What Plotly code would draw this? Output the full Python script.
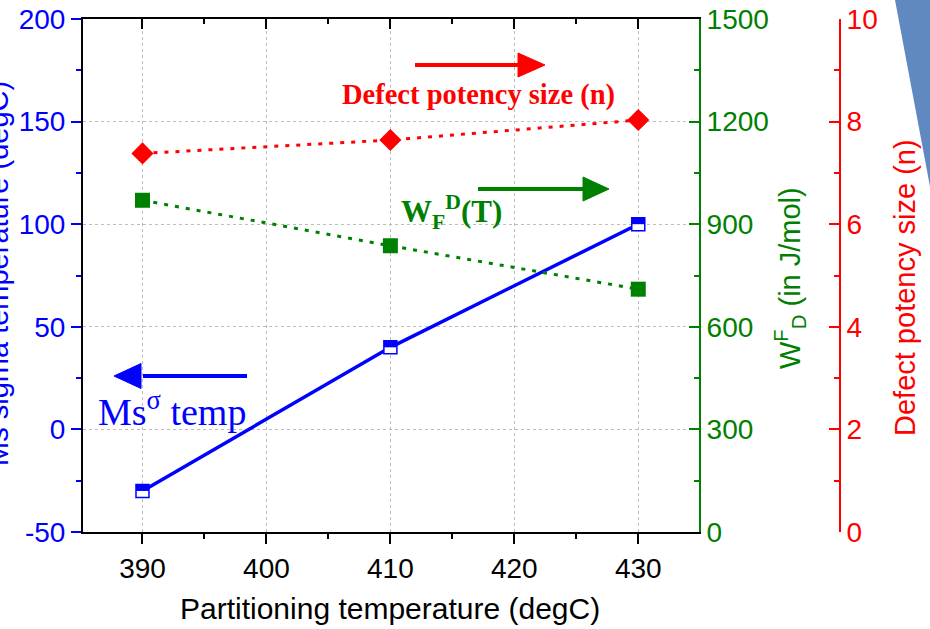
import plotly.graph_objects as go

# Measured series
temps = [390, 410, 430]                 # partitioning temperature (degC)
ms_sigma = [-30, 40, 100]               # Ms sigma temperature (degC)
wfd = [970, 837, 710]                   # W_F^D (J/mol)
defect_n = [7.38, 7.64, 8.03]           # defect potency size (n)

# Axis ticks
x_ticks = [390, 400, 410, 420, 430]
x_minor = [385, 395, 405, 415, 425, 435]
y_ticks = [-50, 0, 50, 100, 150, 200]
y_labels = ["-50", "0", "50", "100", "150", "200"]
y_minor = [-25, 25, 75, 125, 175]
y2_ticks = [0, 300, 600, 900, 1200, 1500]
y2_minor = [150, 450, 750, 1050, 1350]
y3_ticks = [0, 2, 4, 6, 8, 10]
y3_minor = [1, 3, 5, 7, 9]

BLUE = "#0000ff"
GREEN = "#008000"
RED = "#ff0000"
GRID = "#bdbdbd"
SANS = "Liberation Sans"
SERIF = "Liberation Serif"

W, H = 930, 629
L, R, T, B = 83, 90, 19, 97
PW = W - L - R
PH = H - T - B
X_DOM_END = (699 - L) / PW


def px(x):
    return (x - L) / PW


def py(y):
    return (H - B - y) / PH


fig = go.Figure()

fig.add_trace(go.Scatter(
    x=temps, y=wfd, yaxis="y2", mode="lines+markers",
    line=dict(color=GREEN, width=3, dash="4px,7px"),
    marker=dict(symbol="square", size=15, color=GREEN),
    cliponaxis=False, hoverinfo="skip", showlegend=False))

fig.add_trace(go.Scatter(
    x=temps, y=defect_n, yaxis="y3", mode="lines+markers",
    line=dict(color=RED, width=3, dash="4px,7px"),
    marker=dict(symbol="diamond", size=17, color=RED),
    cliponaxis=False, hoverinfo="skip", showlegend=False))

fig.add_trace(go.Scatter(
    x=temps, y=ms_sigma, yaxis="y", mode="lines+markers",
    line=dict(color=BLUE, width=3.5),
    marker=dict(symbol="square", size=13, color="white",
                line=dict(color=BLUE, width=1.5)),
    cliponaxis=False, hoverinfo="skip", showlegend=False))

# carrier trace for the top (mirror) axis
fig.add_trace(go.Scatter(x=temps, y=ms_sigma, xaxis="x2", yaxis="y",
                         mode="none", hoverinfo="skip", showlegend=False))

shapes = []
# upper half of each Ms marker filled
for t, v in zip(temps, ms_sigma):
    shapes.append(dict(type="rect", xref="x", yref="y",
                       xsizemode="pixel", ysizemode="pixel",
                       xanchor=t, yanchor=v, x0=-6.5, x1=6.5, y0=0, y1=6.5,
                       fillcolor=BLUE, line=dict(width=0), layer="above"))


def arrow(x_tail, x_base, x_tip, y, half, color):
    out = [dict(type="line", xref="paper", yref="paper",
                x0=px(x_tail), x1=px(x_base + 2), y0=py(y), y1=py(y),
                line=dict(color=color, width=4)),
           dict(type="path", xref="paper", yref="paper",
                path=f"M{px(x_base)},{py(y - half)} L{px(x_tip)},{py(y)} "
                     f"L{px(x_base)},{py(y + half)} Z",
                fillcolor=color, line=dict(color=color, width=1))]
    return out


shapes += arrow(415, 518, 545, 65, 12, RED)
shapes += arrow(478, 583, 609, 189, 12, GREEN)
shapes += arrow(247, 141, 114, 376, 12.5, BLUE)

# blue corner decoration
shapes.append(dict(type="path", xref="paper", yref="paper",
                   path=f"M{px(895)},{py(0)} L{px(931)},{py(0)} "
                        f"L{px(931)},{py(192)} Z",
                   fillcolor="#6089c2", line=dict(width=0), layer="below"))

annotations = [
    dict(text="Ms sigma temperature (degC)", textangle=-90,
         x=px(-2), y=py(274), xanchor="center", yanchor="middle",
         font=dict(family=SANS, size=29, color=BLUE)),
    dict(text="Partitioning temperature (degC)",
         x=px(390), y=py(608), xanchor="center", yanchor="middle",
         font=dict(family=SANS, size=30, color="black")),
    dict(text="W<sup>F</sup><sub>D</sub> (in J/mol)", textangle=-90,
         x=px(790), y=py(278), xanchor="center", yanchor="middle",
         font=dict(family=SANS, size=29, color=GREEN)),
    dict(text="Defect potency size (n)", textangle=-90,
         x=px(905), y=py(288), xanchor="center", yanchor="middle",
         font=dict(family=SANS, size=29, color=RED)),
    dict(text="<b>Defect potency size (n)</b>",
         x=px(478), y=py(95), xanchor="center", yanchor="middle",
         font=dict(family=SERIF, size=28.5, color=RED)),
    dict(text="<b>W<sub>F</sub><sup>D</sup>(T)</b>",
         x=px(451), y=py(212), xanchor="center", yanchor="middle",
         font=dict(family=SERIF, size=31, color=GREEN)),
    dict(text="Ms<sup>σ</sup> temp",
         x=px(172), y=py(409), xanchor="center", yanchor="middle",
         font=dict(family=SERIF, size=38, color=BLUE)),
]
for a in annotations:
    a.update(xref="paper", yref="paper", showarrow=False)

tick_font = dict(family=SANS, size=28)

fig.update_layout(
    width=W, height=H,
    margin=dict(l=L, r=R, t=T, b=B, autoexpand=False),
    paper_bgcolor="white", plot_bgcolor="white",
    showlegend=False,
    shapes=shapes, annotations=annotations,
    xaxis=dict(domain=[0, X_DOM_END], range=[385.2, 434.9],
               tickmode="array", tickvals=x_ticks,
               ticks="outside", ticklen=10, tickwidth=2, tickcolor="black",
               minor=dict(tickmode="array", tickvals=x_minor, ticks="outside",
                          ticklen=5, tickwidth=2, tickcolor="black"),
               showline=True, linecolor="black", linewidth=2,
               showgrid=True, gridcolor=GRID, griddash="dot", gridwidth=1,
               zeroline=False, tickfont=dict(color="black", **tick_font)),
    xaxis2=dict(overlaying="x", side="top", anchor="y", matches="x",
                tickmode="array", tickvals=x_ticks,
                ticks="inside", ticklen=10, tickwidth=2, tickcolor="black",
                minor=dict(tickmode="array", tickvals=x_minor, ticks="inside",
                           ticklen=5, tickwidth=2, tickcolor="black"),
                showline=True, linecolor="black", linewidth=2,
                showgrid=False, zeroline=False, showticklabels=False),
    yaxis=dict(range=[-50, 200], tickmode="array", tickvals=y_ticks,
               ticktext=y_labels,
               ticks="outside", ticklen=10, tickwidth=2, tickcolor=BLUE,
               minor=dict(tickmode="array", tickvals=y_minor, ticks="outside",
                          ticklen=5, tickwidth=2, tickcolor=BLUE),
               showline=True, linecolor="black", linewidth=2,
               showgrid=True, gridcolor=GRID, griddash="dot", gridwidth=1,
               zeroline=False, tickfont=dict(color=BLUE, **tick_font)),
    yaxis2=dict(overlaying="y", side="right", anchor="x", range=[0, 1500],
                tickmode="array", tickvals=y2_ticks,
                ticks="inside", ticklen=10, tickwidth=2, tickcolor=GREEN,
                minor=dict(tickmode="array", tickvals=y2_minor, ticks="inside",
                           ticklen=5, tickwidth=2, tickcolor=GREEN),
                showline=True, linecolor=GREEN, linewidth=2,
                showgrid=False, zeroline=False,
                tickfont=dict(color=GREEN, **tick_font)),
    yaxis3=dict(overlaying="y", side="right", anchor="free", position=1.0,
                range=[0, 10], tickmode="array", tickvals=y3_ticks,
                ticks="inside", ticklen=10, tickwidth=2, tickcolor=RED,
                minor=dict(tickmode="array", tickvals=y3_minor, ticks="inside",
                           ticklen=5, tickwidth=2, tickcolor=RED),
                showline=True, linecolor=RED, linewidth=2,
                showgrid=False, zeroline=False,
                tickfont=dict(color=RED, **tick_font)),
)

fig.write_html("out.html")
